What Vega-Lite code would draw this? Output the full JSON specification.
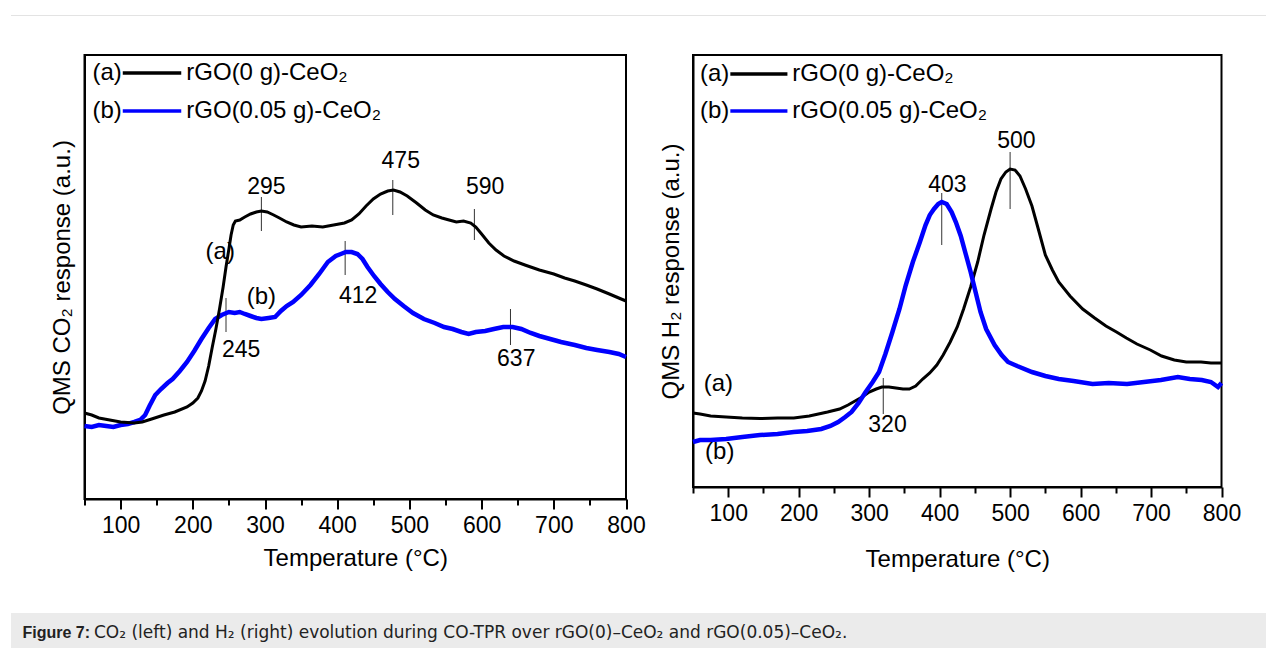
{
  "$schema": "https://vega.github.io/schema/vega-lite/v6.json",
  "background": "white",
  "padding": {"left": 10, "top": 14, "right": 0, "bottom": 0},
  "config": {
    "font": "Liberation Sans",
    "view": {"stroke": "black", "strokeWidth": 2}
  },
  "spacing": 41,
  "datasets": {
    "co2": [
      {"T":50,"v":86,"s":"a"},{"T":60,"v":84,"s":"a"},{"T":70,"v":81,"s":"a"},{"T":85,"v":79,"s":"a"},{"T":100,"v":77,"s":"a"},{"T":119,"v":76,"s":"a"},{"T":130,"v":77,"s":"a"},{"T":143,"v":80,"s":"a"},{"T":160,"v":84,"s":"a"},{"T":175,"v":87,"s":"a"},{"T":192,"v":92,"s":"a"},{"T":200,"v":96,"s":"a"},{"T":207,"v":101,"s":"a"},{"T":212,"v":108,"s":"a"},{"T":217,"v":118,"s":"a"},{"T":222,"v":133,"s":"a"},{"T":227,"v":152,"s":"a"},{"T":232,"v":170,"s":"a"},{"T":237,"v":190,"s":"a"},{"T":242,"v":212,"s":"a"},{"T":246,"v":232,"s":"a"},{"T":250,"v":250,"s":"a"},{"T":253,"v":264,"s":"a"},{"T":256,"v":274,"s":"a"},{"T":259,"v":278,"s":"a"},{"T":265,"v":279,"s":"a"},{"T":272,"v":282,"s":"a"},{"T":280,"v":285,"s":"a"},{"T":288,"v":287,"s":"a"},{"T":295,"v":288,"s":"a"},{"T":303,"v":287,"s":"a"},{"T":312,"v":284,"s":"a"},{"T":320,"v":281,"s":"a"},{"T":330,"v":277,"s":"a"},{"T":340,"v":274,"s":"a"},{"T":350,"v":272,"s":"a"},{"T":365,"v":273,"s":"a"},{"T":380,"v":272,"s":"a"},{"T":395,"v":274,"s":"a"},{"T":410,"v":276,"s":"a"},{"T":420,"v":279,"s":"a"},{"T":430,"v":285,"s":"a"},{"T":440,"v":293,"s":"a"},{"T":450,"v":300,"s":"a"},{"T":460,"v":305,"s":"a"},{"T":470,"v":308,"s":"a"},{"T":478,"v":309,"s":"a"},{"T":487,"v":307,"s":"a"},{"T":497,"v":303,"s":"a"},{"T":510,"v":296,"s":"a"},{"T":522,"v":289,"s":"a"},{"T":533,"v":284,"s":"a"},{"T":545,"v":281,"s":"a"},{"T":555,"v":279,"s":"a"},{"T":565,"v":277,"s":"a"},{"T":575,"v":278,"s":"a"},{"T":585,"v":276,"s":"a"},{"T":592,"v":272,"s":"a"},{"T":600,"v":265,"s":"a"},{"T":610,"v":256,"s":"a"},{"T":620,"v":249,"s":"a"},{"T":631,"v":243,"s":"a"},{"T":645,"v":238,"s":"a"},{"T":660,"v":234,"s":"a"},{"T":680,"v":229,"s":"a"},{"T":700,"v":225,"s":"a"},{"T":715,"v":221,"s":"a"},{"T":729,"v":218,"s":"a"},{"T":745,"v":214,"s":"a"},{"T":760,"v":210,"s":"a"},{"T":777,"v":205,"s":"a"},{"T":790,"v":201,"s":"a"},{"T":800,"v":198,"s":"a"},
      {"T":50,"v":73,"s":"b"},{"T":60,"v":72,"s":"b"},{"T":70,"v":74,"s":"b"},{"T":80,"v":73,"s":"b"},{"T":90,"v":72,"s":"b"},{"T":100,"v":74,"s":"b"},{"T":110,"v":75,"s":"b"},{"T":119,"v":77,"s":"b"},{"T":127,"v":79,"s":"b"},{"T":134,"v":84,"s":"b"},{"T":140,"v":93,"s":"b"},{"T":148,"v":104,"s":"b"},{"T":156,"v":110,"s":"b"},{"T":165,"v":116,"s":"b"},{"T":172,"v":120,"s":"b"},{"T":182,"v":128,"s":"b"},{"T":192,"v":137,"s":"b"},{"T":202,"v":148,"s":"b"},{"T":212,"v":160,"s":"b"},{"T":222,"v":171,"s":"b"},{"T":231,"v":180,"s":"b"},{"T":240,"v":184,"s":"b"},{"T":250,"v":187,"s":"b"},{"T":258,"v":186,"s":"b"},{"T":265,"v":187,"s":"b"},{"T":272,"v":185,"s":"b"},{"T":280,"v":183,"s":"b"},{"T":288,"v":181,"s":"b"},{"T":295,"v":180,"s":"b"},{"T":305,"v":181,"s":"b"},{"T":314,"v":182,"s":"b"},{"T":322,"v":188,"s":"b"},{"T":330,"v":193,"s":"b"},{"T":339,"v":197,"s":"b"},{"T":350,"v":204,"s":"b"},{"T":363,"v":214,"s":"b"},{"T":375,"v":225,"s":"b"},{"T":387,"v":237,"s":"b"},{"T":398,"v":243,"s":"b"},{"T":405,"v":245,"s":"b"},{"T":412,"v":247,"s":"b"},{"T":420,"v":247,"s":"b"},{"T":428,"v":245,"s":"b"},{"T":435,"v":240,"s":"b"},{"T":442,"v":232,"s":"b"},{"T":451,"v":223,"s":"b"},{"T":460,"v":215,"s":"b"},{"T":470,"v":207,"s":"b"},{"T":480,"v":200,"s":"b"},{"T":492,"v":193,"s":"b"},{"T":505,"v":186,"s":"b"},{"T":520,"v":180,"s":"b"},{"T":535,"v":176,"s":"b"},{"T":548,"v":172,"s":"b"},{"T":560,"v":170,"s":"b"},{"T":572,"v":167,"s":"b"},{"T":582,"v":165,"s":"b"},{"T":592,"v":167,"s":"b"},{"T":605,"v":168,"s":"b"},{"T":617,"v":170,"s":"b"},{"T":630,"v":172,"s":"b"},{"T":643,"v":172,"s":"b"},{"T":655,"v":170,"s":"b"},{"T":668,"v":166,"s":"b"},{"T":680,"v":163,"s":"b"},{"T":695,"v":160,"s":"b"},{"T":710,"v":157,"s":"b"},{"T":729,"v":154,"s":"b"},{"T":745,"v":151,"s":"b"},{"T":760,"v":149,"s":"b"},{"T":777,"v":147,"s":"b"},{"T":790,"v":145,"s":"b"},{"T":800,"v":142,"s":"b"}
    ],
    "h2": [
      {"T":50,"v":74,"s":"a"},{"T":60,"v":73,"s":"a"},{"T":75,"v":71,"s":"a"},{"T":97,"v":70,"s":"a"},{"T":120,"v":69,"s":"a"},{"T":145,"v":68.5,"s":"a"},{"T":170,"v":69,"s":"a"},{"T":193,"v":69,"s":"a"},{"T":215,"v":71,"s":"a"},{"T":241,"v":75,"s":"a"},{"T":258,"v":78,"s":"a"},{"T":270,"v":82,"s":"a"},{"T":280,"v":86,"s":"a"},{"T":290,"v":90,"s":"a"},{"T":300,"v":95,"s":"a"},{"T":310,"v":98,"s":"a"},{"T":318,"v":100,"s":"a"},{"T":328,"v":100,"s":"a"},{"T":338,"v":99,"s":"a"},{"T":348,"v":98,"s":"a"},{"T":357,"v":98,"s":"a"},{"T":366,"v":101,"s":"a"},{"T":376,"v":108,"s":"a"},{"T":386,"v":114,"s":"a"},{"T":396,"v":122,"s":"a"},{"T":405,"v":132,"s":"a"},{"T":415,"v":145,"s":"a"},{"T":425,"v":160,"s":"a"},{"T":434,"v":178,"s":"a"},{"T":444,"v":200,"s":"a"},{"T":454,"v":225,"s":"a"},{"T":463,"v":252,"s":"a"},{"T":473,"v":278,"s":"a"},{"T":480,"v":295,"s":"a"},{"T":487,"v":308,"s":"a"},{"T":494,"v":315,"s":"a"},{"T":500,"v":318,"s":"a"},{"T":507,"v":317,"s":"a"},{"T":514,"v":311,"s":"a"},{"T":522,"v":298,"s":"a"},{"T":531,"v":281,"s":"a"},{"T":540,"v":258,"s":"a"},{"T":550,"v":232,"s":"a"},{"T":560,"v":217,"s":"a"},{"T":569,"v":205,"s":"a"},{"T":585,"v":191,"s":"a"},{"T":603,"v":178,"s":"a"},{"T":620,"v":169,"s":"a"},{"T":636,"v":161,"s":"a"},{"T":651,"v":155,"s":"a"},{"T":665,"v":149,"s":"a"},{"T":680,"v":143,"s":"a"},{"T":699,"v":137,"s":"a"},{"T":715,"v":131,"s":"a"},{"T":733,"v":127,"s":"a"},{"T":750,"v":125,"s":"a"},{"T":771,"v":125,"s":"a"},{"T":785,"v":124,"s":"a"},{"T":800,"v":124,"s":"a"},
      {"T":50,"v":45,"s":"b"},{"T":60,"v":47,"s":"b"},{"T":75,"v":47,"s":"b"},{"T":97,"v":48,"s":"b"},{"T":120,"v":50,"s":"b"},{"T":145,"v":52,"s":"b"},{"T":170,"v":53,"s":"b"},{"T":193,"v":55,"s":"b"},{"T":212,"v":56,"s":"b"},{"T":232,"v":58,"s":"b"},{"T":245,"v":61,"s":"b"},{"T":256,"v":65,"s":"b"},{"T":266,"v":70,"s":"b"},{"T":275,"v":75,"s":"b"},{"T":285,"v":84,"s":"b"},{"T":295,"v":95,"s":"b"},{"T":305,"v":105,"s":"b"},{"T":314,"v":115,"s":"b"},{"T":323,"v":133,"s":"b"},{"T":333,"v":155,"s":"b"},{"T":343,"v":178,"s":"b"},{"T":352,"v":202,"s":"b"},{"T":362,"v":225,"s":"b"},{"T":372,"v":245,"s":"b"},{"T":380,"v":262,"s":"b"},{"T":386,"v":272,"s":"b"},{"T":392,"v":278,"s":"b"},{"T":398,"v":283,"s":"b"},{"T":403,"v":285,"s":"b"},{"T":410,"v":283,"s":"b"},{"T":417,"v":275,"s":"b"},{"T":423,"v":265,"s":"b"},{"T":430,"v":251,"s":"b"},{"T":437,"v":233,"s":"b"},{"T":444,"v":215,"s":"b"},{"T":451,"v":195,"s":"b"},{"T":458,"v":175,"s":"b"},{"T":466,"v":158,"s":"b"},{"T":478,"v":142,"s":"b"},{"T":488,"v":132,"s":"b"},{"T":497,"v":125,"s":"b"},{"T":510,"v":121,"s":"b"},{"T":531,"v":115,"s":"b"},{"T":550,"v":111,"s":"b"},{"T":569,"v":108,"s":"b"},{"T":590,"v":106,"s":"b"},{"T":617,"v":103,"s":"b"},{"T":640,"v":104,"s":"b"},{"T":666,"v":103,"s":"b"},{"T":690,"v":105,"s":"b"},{"T":714,"v":107,"s":"b"},{"T":738,"v":110,"s":"b"},{"T":755,"v":108,"s":"b"},{"T":772,"v":107,"s":"b"},{"T":785,"v":105,"s":"b"},{"T":795,"v":100,"s":"b"},{"T":800,"v":104,"s":"b"}
    ],
    "co2_peaks": [
      {"t":295,"y1":268,"y2":302,"lx":302,"ly":312,"label":"295"},
      {"t":477,"y1":284,"y2":319,"lx":488,"ly":338,"label":"475"},
      {"t":590,"y1":259,"y2":290,"lx":605,"ly":312,"label":"590"},
      {"t":246,"y1":167,"y2":201,"lx":267,"ly":149,"label":"245"},
      {"t":411,"y1":224,"y2":258,"lx":429,"ly":203,"label":"412"},
      {"t":640,"y1":154,"y2":190,"lx":648,"ly":140,"label":"637"}
    ],
    "h2_peaks": [
      {"t":500,"y1":278,"y2":335,"lx":509,"ly":346,"label":"500"},
      {"t":403,"y1":242,"y2":294,"lx":411,"ly":302,"label":"403"},
      {"t":320,"y1":73,"y2":109,"lx":326,"ly":62,"label":"320"}
    ],
    "co2_tags": [{"T":238,"v":247,"tag":"(a)"},{"T":295,"v":202,"tag":"(b)"}],
    "h2_tags": [{"T":86,"v":103,"tag":"(a)"},{"T":88,"v":35,"tag":"(b)"}],
    "co2_legend": [
      {"s":"a","tag":"(a)","name":"rGO(0 g)-CeO₂","x1":103,"x2":184,"xn":191,"v":426},
      {"s":"b","tag":"(b)","name":"rGO(0.05 g)-CeO₂","x1":103,"x2":184,"xn":191,"v":388}
    ],
    "h2_legend": [
      {"s":"a","tag":"(a)","name":"rGO(0 g)-CeO₂","x1":103,"x2":184,"xn":191,"v":413},
      {"s":"b","tag":"(b)","name":"rGO(0.05 g)-CeO₂","x1":103,"x2":184,"xn":191,"v":376}
    ],
    "caption": [
      {"head":"Figure 7:","body":"CO₂ (left) and H₂ (right) evolution during CO-TPR over rGO(0)–CeO₂ and rGO(0.05)–CeO₂."}
    ]
  },
  "vconcat": [
    {
      "spacing": 38,
      "vconcat": [
        {
          "width": 1256, "height": 1,
          "view": {"fill": "#e3e3e3", "stroke": null},
          "data": {"values": [{}]},
          "mark": {"type": "rule", "opacity": 0},
          "encoding": {}
        },
        {
          "spacing": 66.5,
          "bounds": "flush",
          "hconcat": [
            {
              "width": 6.5, "height": 444,
              "view": {"stroke": null},
              "data": {"values": [{}]},
              "mark": {"type": "rule", "opacity": 0},
              "encoding": {}
            },
            {
              "width": 541.5, "height": 444,
              "resolve": {"axis": {"x": "independent", "y": "independent"}},
              "layer": [
                {
                  "data": {"name": "co2_peaks"},
                  "mark": {"type": "rule", "color": "#333333", "strokeWidth": 1},
                  "encoding": {
                    "x": {"field": "t", "type": "quantitative", "scale": {"domain": [50, 800], "nice": false, "zero": false},
                          "axis": {"orient": "bottom", "values": [50,150,250,350,450,550,650,750], "tickSize": 6, "tickWidth": 2, "tickColor": "black", "domain": false, "labels": false, "grid": false, "title": null}},
                    "y": {"field": "y1", "type": "quantitative", "scale": {"domain": [0, 444], "nice": false, "zero": false}, "axis": null},
                    "y2": {"field": "y2"}
                  }
                },
                {
                  "data": {"name": "co2_peaks"},
                  "mark": {"type": "text", "fontSize": 23, "color": "black", "baseline": "middle"},
                  "encoding": {
                    "x": {"field": "lx", "type": "quantitative", "scale": {"domain": [50, 800], "nice": false, "zero": false}, "axis": null},
                    "y": {"field": "ly", "type": "quantitative", "scale": {"domain": [0, 444], "nice": false, "zero": false}, "axis": null},
                    "text": {"field": "label"}
                  }
                },
                {
                  "data": {"name": "co2"},
                  "transform": [{"filter": "datum.s === 'b'"}],
                  "mark": {"type": "line", "color": "#0000ff", "strokeWidth": 4.5},
                  "encoding": {
                    "x": {"field": "T", "type": "quantitative", "scale": {"domain": [50, 800], "nice": false, "zero": false}, "axis": null},
                    "y": {"field": "v", "type": "quantitative", "scale": {"domain": [0, 444], "nice": false, "zero": false}, "axis": null}
                  }
                },
                {
                  "data": {"name": "co2"},
                  "transform": [{"filter": "datum.s === 'a'"}],
                  "mark": {"type": "line", "color": "black", "strokeWidth": 3},
                  "encoding": {
                    "x": {"field": "T", "type": "quantitative", "scale": {"domain": [50, 800], "nice": false, "zero": false},
                          "axis": {"orient": "bottom", "values": [100,200,300,400,500,600,700,800], "tickSize": 10, "tickWidth": 2, "tickColor": "black", "domainColor": "black", "domainWidth": 2, "labelFontSize": 23, "labelColor": "black", "labelPadding": 5, "labelFlush": false, "labelOverlap": false, "grid": false, "title": "Temperature (°C)", "titleFontSize": 24, "titleFontWeight": "normal", "titleColor": "black", "titlePadding": 9}},
                    "y": {"field": "v", "type": "quantitative", "scale": {"domain": [0, 444], "nice": false, "zero": false},
                          "axis": {"orient": "left", "title": "QMS CO₂ response (a.u.)", "titleFontSize": 24, "titleFontWeight": "normal", "titleColor": "black", "titlePadding": 10, "ticks": false, "tickSize": 0, "labels": false, "domainColor": "black", "domainWidth": 2, "grid": false}}
                  }
                },
                {
                  "data": {"name": "co2_tags"},
                  "mark": {"type": "text", "fontSize": 24, "color": "black", "baseline": "middle"},
                  "encoding": {
                    "x": {"field": "T", "type": "quantitative", "scale": {"domain": [50, 800], "nice": false, "zero": false}, "axis": null},
                    "y": {"field": "v", "type": "quantitative", "scale": {"domain": [0, 444], "nice": false, "zero": false}, "axis": null},
                    "text": {"field": "tag"}
                  }
                },
                {
                  "data": {"name": "co2_legend"},
                  "mark": {"type": "rule", "strokeWidth": 3.5},
                  "encoding": {
                    "x": {"field": "x1", "type": "quantitative", "scale": {"domain": [50, 800], "nice": false, "zero": false}, "axis": null},
                    "x2": {"field": "x2"},
                    "y": {"field": "v", "type": "quantitative", "scale": {"domain": [0, 444], "nice": false, "zero": false}, "axis": null},
                    "color": {"field": "s", "type": "nominal", "scale": {"domain": ["a", "b"], "range": ["#000000", "#0000ff"]}, "legend": null}
                  }
                },
                {
                  "data": {"name": "co2_legend"},
                  "mark": {"type": "text", "fontSize": 24, "color": "black", "baseline": "middle", "align": "right", "dx": -1},
                  "encoding": {
                    "x": {"field": "x1", "type": "quantitative", "scale": {"domain": [50, 800], "nice": false, "zero": false}, "axis": null},
                    "y": {"field": "v", "type": "quantitative", "scale": {"domain": [0, 444], "nice": false, "zero": false}, "axis": null},
                    "text": {"field": "tag"}
                  }
                },
                {
                  "data": {"name": "co2_legend"},
                  "mark": {"type": "text", "fontSize": 24, "color": "black", "baseline": "middle", "align": "left"},
                  "encoding": {
                    "x": {"field": "xn", "type": "quantitative", "scale": {"domain": [50, 800], "nice": false, "zero": false}, "axis": null},
                    "y": {"field": "v", "type": "quantitative", "scale": {"domain": [0, 444], "nice": false, "zero": false}, "axis": null},
                    "text": {"field": "name"}
                  }
                }
              ]
            },
            {
              "width": 528.5, "height": 432,
              "resolve": {"axis": {"x": "independent", "y": "independent"}},
              "layer": [
                {
                  "data": {"name": "h2_peaks"},
                  "mark": {"type": "rule", "color": "#333333", "strokeWidth": 1},
                  "encoding": {
                    "x": {"field": "t", "type": "quantitative", "scale": {"domain": [50, 800], "nice": false, "zero": false},
                          "axis": {"orient": "bottom", "values": [50,150,250,350,450,550,650,750], "tickSize": 6, "tickWidth": 2, "tickColor": "black", "domain": false, "labels": false, "grid": false, "title": null}},
                    "y": {"field": "y1", "type": "quantitative", "scale": {"domain": [0, 432], "nice": false, "zero": false}, "axis": null},
                    "y2": {"field": "y2"}
                  }
                },
                {
                  "data": {"name": "h2_peaks"},
                  "mark": {"type": "text", "fontSize": 23, "color": "black", "baseline": "middle"},
                  "encoding": {
                    "x": {"field": "lx", "type": "quantitative", "scale": {"domain": [50, 800], "nice": false, "zero": false}, "axis": null},
                    "y": {"field": "ly", "type": "quantitative", "scale": {"domain": [0, 432], "nice": false, "zero": false}, "axis": null},
                    "text": {"field": "label"}
                  }
                },
                {
                  "data": {"name": "h2"},
                  "transform": [{"filter": "datum.s === 'a'"}],
                  "mark": {"type": "line", "color": "black", "strokeWidth": 3},
                  "encoding": {
                    "x": {"field": "T", "type": "quantitative", "scale": {"domain": [50, 800], "nice": false, "zero": false},
                          "axis": {"orient": "bottom", "values": [100,200,300,400,500,600,700,800], "tickSize": 10, "tickWidth": 2, "tickColor": "black", "domainColor": "black", "domainWidth": 2, "labelFontSize": 23, "labelColor": "black", "labelPadding": 5, "labelFlush": false, "labelOverlap": false, "grid": false, "title": "Temperature (°C)", "titleFontSize": 24, "titleFontWeight": "normal", "titleColor": "black", "titlePadding": 22}},
                    "y": {"field": "v", "type": "quantitative", "scale": {"domain": [0, 432], "nice": false, "zero": false},
                          "axis": {"orient": "left", "title": "QMS H₂ response (a.u.)", "titleFontSize": 24, "titleFontWeight": "normal", "titleColor": "black", "titlePadding": 10, "ticks": false, "tickSize": 0, "labels": false, "domainColor": "black", "domainWidth": 2, "grid": false}}
                  }
                },
                {
                  "data": {"name": "h2"},
                  "transform": [{"filter": "datum.s === 'b'"}],
                  "mark": {"type": "line", "color": "#0000ff", "strokeWidth": 4.5},
                  "encoding": {
                    "x": {"field": "T", "type": "quantitative", "scale": {"domain": [50, 800], "nice": false, "zero": false}, "axis": null},
                    "y": {"field": "v", "type": "quantitative", "scale": {"domain": [0, 432], "nice": false, "zero": false}, "axis": null}
                  }
                },
                {
                  "data": {"name": "h2_tags"},
                  "mark": {"type": "text", "fontSize": 24, "color": "black", "baseline": "middle"},
                  "encoding": {
                    "x": {"field": "T", "type": "quantitative", "scale": {"domain": [50, 800], "nice": false, "zero": false}, "axis": null},
                    "y": {"field": "v", "type": "quantitative", "scale": {"domain": [0, 432], "nice": false, "zero": false}, "axis": null},
                    "text": {"field": "tag"}
                  }
                },
                {
                  "data": {"name": "h2_legend"},
                  "mark": {"type": "rule", "strokeWidth": 3.5},
                  "encoding": {
                    "x": {"field": "x1", "type": "quantitative", "scale": {"domain": [50, 800], "nice": false, "zero": false}, "axis": null},
                    "x2": {"field": "x2"},
                    "y": {"field": "v", "type": "quantitative", "scale": {"domain": [0, 432], "nice": false, "zero": false}, "axis": null},
                    "color": {"field": "s", "type": "nominal", "scale": {"domain": ["a", "b"], "range": ["#000000", "#0000ff"]}, "legend": null}
                  }
                },
                {
                  "data": {"name": "h2_legend"},
                  "mark": {"type": "text", "fontSize": 24, "color": "black", "baseline": "middle", "align": "right", "dx": -1},
                  "encoding": {
                    "x": {"field": "x1", "type": "quantitative", "scale": {"domain": [50, 800], "nice": false, "zero": false}, "axis": null},
                    "y": {"field": "v", "type": "quantitative", "scale": {"domain": [0, 432], "nice": false, "zero": false}, "axis": null},
                    "text": {"field": "tag"}
                  }
                },
                {
                  "data": {"name": "h2_legend"},
                  "mark": {"type": "text", "fontSize": 24, "color": "black", "baseline": "middle", "align": "left"},
                  "encoding": {
                    "x": {"field": "xn", "type": "quantitative", "scale": {"domain": [50, 800], "nice": false, "zero": false}, "axis": null},
                    "y": {"field": "v", "type": "quantitative", "scale": {"domain": [0, 432], "nice": false, "zero": false}, "axis": null},
                    "text": {"field": "name"}
                  }
                }
              ]
            }
          ]
        }
      ]
    },
    {
      "width": 1256, "height": 36,
      "view": {"fill": "#ebebeb", "stroke": null},
      "data": {"name": "caption"},
      "layer": [
        {
          "mark": {"type": "text", "align": "left", "baseline": "alphabetic", "font": "Liberation Sans", "fontSize": 16, "fontWeight": "bold", "color": "#222222", "dx": 11.5, "dy": 7},
          "encoding": {
            "x": {"datum": 0, "type": "quantitative", "scale": {"domain": [0, 1], "nice": false}, "axis": null},
            "text": {"field": "head"}
          }
        },
        {
          "mark": {"type": "text", "align": "left", "baseline": "alphabetic", "font": "DejaVu Sans", "fontSize": 17, "fontWeight": "normal", "color": "#222222", "dx": 83, "dy": 7},
          "encoding": {
            "x": {"datum": 0, "type": "quantitative", "scale": {"domain": [0, 1], "nice": false}, "axis": null},
            "text": {"field": "body"}
          }
        }
      ]
    }
  ]
}
